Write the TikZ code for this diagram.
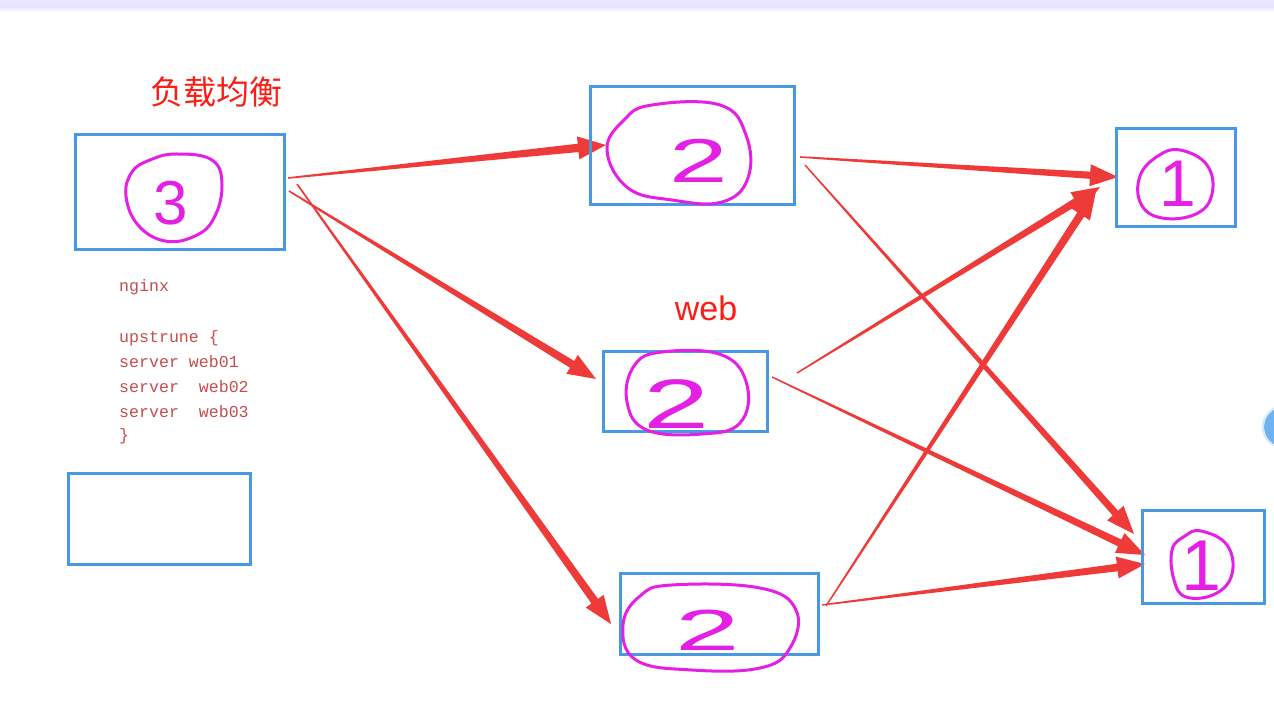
\documentclass[tikz,border=0pt]{standalone}
\usepackage{fontspec}
\usetikzlibrary{calc}
\newfontfamily\cjkfont{Noto Sans CJK SC}
\newfontfamily\labelfont{Liberation Sans}
\newfontfamily\codefont{Liberation Mono}
\definecolor{boxblue}{RGB}{72,152,226}
\definecolor{arrowred}{RGB}{238,58,56}
\definecolor{penpink}{RGB}{228,32,228}
\definecolor{codered}{RGB}{196,78,78}
\definecolor{labelred}{RGB}{250,30,20}
\definecolor{topband}{RGB}{232,230,255}
\definecolor{bubble}{RGB}{110,178,240}
\pgfdeclarelayer{bg}
\pgfsetlayers{bg,main}
% start, tip, start half width, end half width, head half width
\newcommand\taperarrow[5]{%
  \coordinate (tb) at ($(#2)!28pt!(#1)$);
  \fill[arrowred] ($(#1)!#3!90:(#2)$) -- ($(tb)!#4!90:(#2)$) -- ($(tb)!#5!90:(#2)$) -- (#2)
    -- ($(tb)!#5!-90:(#2)$) -- ($(tb)!#4!-90:(#2)$) -- ($(#1)!#3!-90:(#2)$) -- cycle;
}
\tikzset{
  box/.style={draw=boxblue, line width=3pt, inner sep=0pt},
  loop/.style={draw=penpink, line width=3pt, line join=round},
  digit/.style={text=penpink, inner sep=0pt, font=\labelfont},
  codeline/.style={text=codered, inner sep=0pt, anchor=base west, font=\codefont\fontsize{16.6}{20}\selectfont},
}
\begin{document}
\begin{tikzpicture}[x=1pt, y=-1pt]
\useasboundingbox (0,0) rectangle (1274,711);
\clip (0,0) rectangle (1274,711);

% boxes
\node[box, minimum width=209pt, minimum height=115pt] (A) at (179.5,192.5) {};
\node[box, minimum width=204pt, minimum height=118pt] (B) at (692,146) {};
\node[box, minimum width=164pt, minimum height=80pt] (C) at (685,391) {};
\node[box, minimum width=198pt, minimum height=81pt] (D) at (719,613.5) {};
\node[box, minimum width=119pt, minimum height=98pt] (E) at (1175.5,178) {};
\node[box, minimum width=122pt, minimum height=93pt] (F) at (1203,556.5) {};
\node[box, minimum width=182pt, minimum height=91pt] (G) at (159,518.5) {};

% labels
\node[text=labelred, inner sep=0pt, font=\cjkfont\fontsize{33}{36}\selectfont] (lb) at (216,92) {负载均衡};
\node[text=labelred, inner sep=0pt, font=\labelfont\fontsize{34}{38}\selectfont] (web) at (706,308) {web};

\node[codeline] (c1) at (119,292) {nginx};
\node[codeline] (c2) at (119,342) {upstrune \{};
\node[codeline] (c3) at (119,367) {server web01};
\node[codeline] (c4) at (119,392) {server\ \ web02};
\node[codeline] (c5) at (119,417) {server\ \ web03};
\node[codeline] (c6) at (119,440) {\}};

% arrow end points
\coordinate (sAB) at (288,178); \coordinate (tAB) at (606,145);
\coordinate (sAC) at (289,191); \coordinate (tAC) at (596,379);
\coordinate (sAD) at (297,184); \coordinate (tAD) at (611,624);
\coordinate (sBE) at (800,157); \coordinate (tBE) at (1118,177);
\coordinate (sBF) at (805,165); \coordinate (tBF) at (1134,534);
\coordinate (sCE) at (797,373); \coordinate (tCE) at (1100,187);
\coordinate (sCF) at (772,377); \coordinate (tCF) at (1145,555);
\coordinate (sDE) at (826,606); \coordinate (tDE) at (1096,191);
\coordinate (sDF) at (822,605); \coordinate (tDF) at (1145,564);

\begin{pgfonlayer}{bg}
\fill[white] (0,0) rectangle (1274,711);
\fill[topband] (0,0) rectangle (1274,7);
\shade[top color=topband, bottom color=white] (0,7) rectangle (1274,12);
\fill[bubble] (1284,427) circle (20pt);
\draw[bubble!30, line width=2pt] (1284,427) circle (21pt);
\taperarrow{sAB}{tAB}{0.8pt}{4.2pt}{11.5pt}
\taperarrow{sAC}{tAC}{0.8pt}{4.0pt}{11pt}
\taperarrow{sAD}{tAD}{0.8pt}{4.0pt}{11pt}
\taperarrow{sBE}{tBE}{0.8pt}{3.6pt}{11pt}
\taperarrow{sBF}{tBF}{0.7pt}{3.6pt}{11pt}
\taperarrow{sCE}{tCE}{0.7pt}{3.8pt}{11pt}
\taperarrow{sCF}{tCF}{0.7pt}{3.8pt}{11pt}
\taperarrow{sDE}{tDE}{0.7pt}{4.0pt}{11pt}
\taperarrow{sDF}{tDF}{0.7pt}{3.8pt}{11pt}
\end{pgfonlayer}

% hand-drawn loops
\draw[loop] plot[smooth cycle, tension=0.7] coordinates {(176,154) (212,160) (222,185) (214,218) (195,236) (165,241) (138,225) (126,196) (132,172) (150,160)};
\draw[loop] plot[smooth cycle, tension=0.7] coordinates {(652,105) (720,105) (746,135) (748,178) (722,202) (672,200) (628,188) (607,150) (624,120)};
\draw[loop] plot[smooth cycle, tension=0.7] coordinates {(662,352) (722,355) (747,385) (740,423) (702,434) (647,430) (627,402) (634,366)};
\draw[loop] plot[smooth cycle, tension=0.7] coordinates {(672,585) (760,588) (796,610) (790,648) (760,668) (692,670) (636,660) (623,625) (640,596)};
\draw[loop] plot[smooth cycle, tension=0.7] coordinates {(1180,150) (1207,165) (1212,194) (1196,214) (1162,218) (1141,204) (1140,176) (1158,156)};
\draw[loop] plot[smooth cycle, tension=0.7] coordinates {(1201,531) (1227,545) (1232,574) (1215,594) (1186,597) (1174,580) (1172,550) (1185,536)};

% digits
\node[digit, font=\labelfont\fontsize{62}{66}\selectfont] (n3) at (171,203) {3};
\node[digit, font=\labelfont\fontsize{62}{66}\selectfont] (n2a) at (699,161) {\scalebox{1.7}[1]{2}};
\node[digit, font=\labelfont\fontsize{70}{74}\selectfont] (n2b) at (677,404) {\scalebox{1.7}[1]{2}};
\node[digit, font=\labelfont\fontsize{58}{62}\selectfont] (n2c) at (708,630) {\scalebox{2.0}[1]{2}};
\node[digit, font=\labelfont\fontsize{66}{70}\selectfont] (n1a) at (1178,184) {1};
\node[digit, font=\labelfont\fontsize{72}{76}\selectfont] (n1b) at (1202,566) {1};
\end{tikzpicture}
\end{document}
